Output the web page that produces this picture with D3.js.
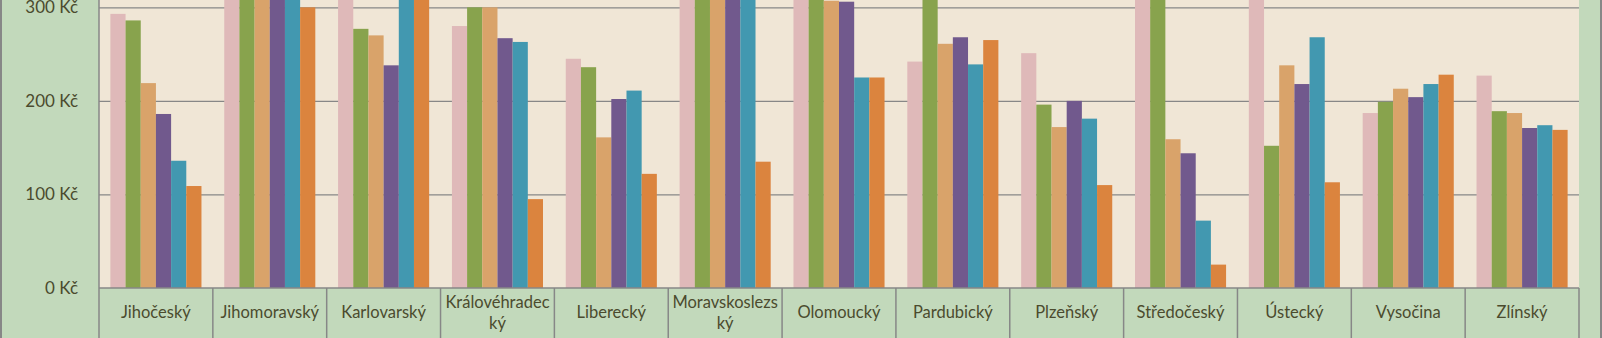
<!DOCTYPE html>
<html>
<head>
<meta charset="utf-8">
<script src="https://cdn.jsdelivr.net/npm/d3@7"></script>
<style>
  html, body { margin: 0; padding: 0; background: #C2D9BB; overflow: hidden; }
  svg { display: block; }
  text { font-family: Lato, "Open Sans", sans-serif; fill: #4B4B2E; }
</style>
</head>
<body>
<svg id="chart" width="1602" height="338"></svg>
<script>
// Regions (kraje)
const categories = ["Jihočeský", "Jihomoravský", "Karlovarský", "Královéhradecký", "Liberecký",
  "Moravskoslezský", "Olomoucký", "Pardubický", "Plzeňský", "Středočeský", "Ústecký", "Vysočina", "Zlínský"];

// Six series, one value per region (Kč)
const series1 = [293, 335, 320, 280, 245, 340, 330, 242, 251, 345, 325, 187, 227];
const series2 = [286, 350, 277, 300, 236, 355, 315, 318, 196, 330, 152, 199, 189];
const series3 = [219, 325, 270, 300, 161, 330, 307, 261, 172, 159, 238, 213, 187];
const series4 = [186, 340, 238, 267, 202, 345, 306, 268, 200, 144, 218, 204, 171];
const series5 = [136, 320, 315, 263, 211, 335, 225, 239, 181, 72, 268, 218, 174];
const series6 = [109, 300, 330, 95, 122, 135, 225, 265, 110, 25, 113, 228, 169];
const seriesList = [series1, series2, series3, series4, series5, series6];

const yTicks = [0, 100, 200, 300, 400];
const colors = ["#DFB9B9", "#88A34D", "#D9A36A", "#71598D", "#4298B0", "#DB843E"];

const svg = d3.select("#chart");
const W = 1602, H = 338;

// outer border
svg.append("rect").attr("x", 0).attr("y", 0).attr("width", W).attr("height", H).attr("fill", "#C2D9BB");
svg.append("rect").attr("x", 0).attr("y", 0).attr("width", 2).attr("height", H).attr("fill", "#878787");
svg.append("rect").attr("x", 1600).attr("y", 0).attr("width", 2).attr("height", H).attr("fill", "#878787");

const plotLeft = 99, plotRight = 1579;
const yBase = 288;
const pxPerUnit = 0.9356;
const yMax = 400;

const x0 = d3.scaleBand().domain(categories).range([plotLeft, plotRight]).paddingInner(0).paddingOuter(0);
const x1 = d3.scaleBand().domain(d3.range(seriesList.length)).range([0, x0.bandwidth()])
  .paddingInner(0).paddingOuter(0.75);
const y = d3.scaleLinear().domain([0, yMax]).range([yBase, yBase - yMax * pxPerUnit]);

// plot background
svg.append("rect")
  .attr("x", plotLeft).attr("y", y(yMax))
  .attr("width", plotRight - plotLeft).attr("height", yBase - y(yMax))
  .attr("fill", "#F0E6D6");

// gridlines
svg.append("g")
  .attr("transform", `translate(${plotLeft},0)`)
  .call(d3.axisLeft(y).tickValues(yTicks.filter(d => d > 0)).tickSize(-(plotRight - plotLeft)).tickFormat(""))
  .call(g => g.select(".domain").remove())
  .call(g => g.selectAll("line").attr("stroke", "#878787").attr("stroke-width", 1.3));

// bars
const groups = svg.append("g").selectAll("g").data(categories).join("g")
  .attr("transform", d => `translate(${x0(d)},0)`);
groups.selectAll("rect")
  .data((d, i) => seriesList.map((s, k) => ({ k, v: s[i] })))
  .join("rect")
  .attr("x", d => x1(d.k))
  .attr("width", x1.bandwidth())
  .attr("y", d => y(d.v))
  .attr("height", d => yBase - y(d.v))
  .attr("fill", d => colors[d.k]);

// y axis labels
const yAxis = svg.append("g")
  .attr("transform", `translate(${plotLeft},0)`)
  .call(d3.axisLeft(y).tickValues(yTicks).tickSize(0).tickPadding(21).tickFormat(d => d + " Kč"));
yAxis.select(".domain").remove();
yAxis.selectAll("text").attr("font-size", 17).style("font-family", "Lato, sans-serif").attr("fill", "#4B4B2E");

// axis lines
svg.append("line").attr("x1", plotLeft).attr("x2", plotRight).attr("y1", yBase).attr("y2", yBase)
  .attr("stroke", "#878787").attr("stroke-width", 1.5);
svg.append("line").attr("x1", plotLeft).attr("x2", plotLeft).attr("y1", 0).attr("y2", H)
  .attr("stroke", "#878787").attr("stroke-width", 1.5);

// category separators
const bounds = categories.map(c => x0(c) + x0.bandwidth());
svg.append("g").selectAll("line").data(bounds).join("line")
  .attr("x1", d => d).attr("x2", d => d).attr("y1", yBase).attr("y2", H)
  .attr("stroke", "#878787").attr("stroke-width", 1.5);

// category labels, broken by character when wider than the band
const maxW = 108;
const labels = svg.append("g").selectAll("text").data(categories).join("text")
  .attr("text-anchor", "middle")
  .attr("font-size", 16.5)
  .attr("x", d => x0(d) + x0.bandwidth() / 2);
labels.each(function (d) {
  const t = d3.select(this);
  t.text(d);
  let lines = [d];
  if (this.getComputedTextLength() > maxW) {
    let cut = d.length;
    while (cut > 1) {
      t.text(d.slice(0, cut));
      if (this.getComputedTextLength() <= maxW) break;
      cut--;
    }
    lines = [d.slice(0, cut), d.slice(cut)];
  }
  t.text(null);
  const cx = x0(d) + x0.bandwidth() / 2;
  if (lines.length === 1) {
    t.append("tspan").attr("x", cx).attr("y", 318).text(lines[0]);
  } else {
    t.append("tspan").attr("x", cx).attr("y", 308).text(lines[0]);
    t.append("tspan").attr("x", cx).attr("y", 329).text(lines[1]);
  }
});
</script>
</body>
</html>
